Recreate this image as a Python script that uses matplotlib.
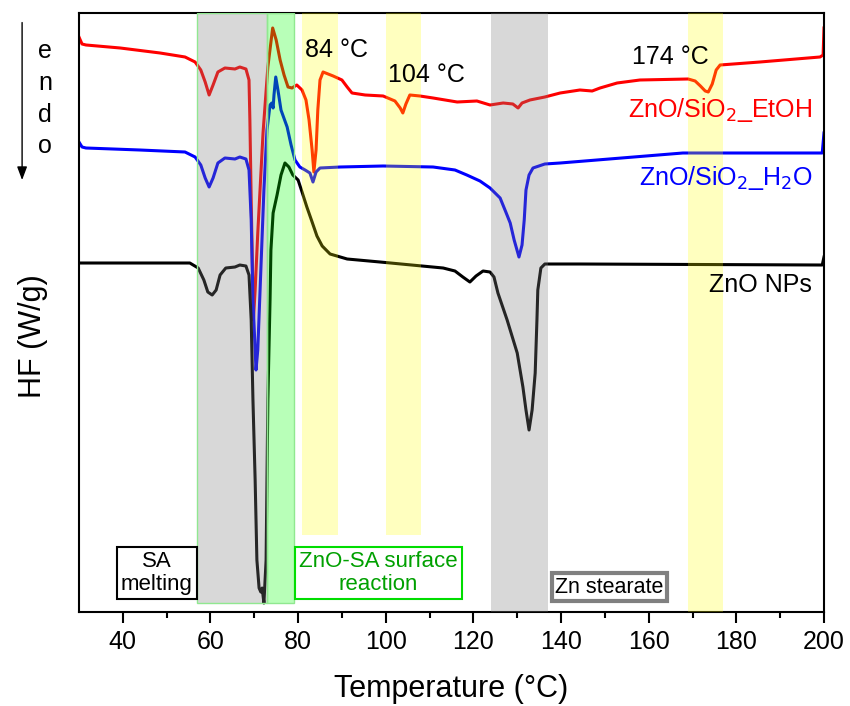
import matplotlib
matplotlib.use("Agg")
import matplotlib.pyplot as plt

plt.rcParams['font.family'] = ['Liberation Sans', 'DejaVu Sans']

# curvas DSC (T en °C, HF en unidades arbitrarias)
t_etoh = [30.0, 30.7, 31.6, 39.4, 48.5, 54.2, 56.5, 57.8, 58.8, 59.7, 60.6, 61.7, 63.3, 65.6,
          66.7, 68.1, 68.8, 69.0, 69.3, 69.8, 70.2, 70.8, 72.0, 73.1, 74.2, 75.0, 75.9, 76.8,
          77.7, 78.6, 79.7, 80.9, 81.8, 82.5, 83.2, 83.6, 84.1, 84.5, 85.0, 85.7, 88.0, 90.0,
          91.2, 92.3, 95.3, 99.4, 102.1, 103.3, 103.9, 104.6, 105.5, 107.8, 110.8, 116.3,
          120.8, 123.8, 126.8, 129.0, 130.2, 131.1, 132.9, 136.3, 139.8, 144.3, 147.1, 148.9,
          152.8, 158.0, 169.0, 170.6, 171.8, 172.9, 173.6, 174.5, 175.4, 176.3, 185.4, 199.1,
          199.8, 200.0]
hf_etoh = [5.75, 5.68, 5.67, 5.64, 5.59, 5.55, 5.50, 5.42, 5.30, 5.17, 5.27, 5.40, 5.44, 5.43,
           5.45, 5.43, 5.32, 4.92, 4.12, 2.92, 3.22, 3.79, 4.79, 5.45, 5.84, 5.72, 5.52, 5.37,
           5.25, 5.24, 5.27, 5.22, 5.12, 4.92, 4.62, 4.40, 4.62, 5.02, 5.32, 5.40, 5.36, 5.32,
           5.25, 5.19, 5.17, 5.16, 5.11, 5.04, 4.99, 5.08, 5.17, 5.16, 5.14, 5.10,
           5.11, 5.07, 5.09, 5.08, 5.04, 5.09, 5.12, 5.15, 5.19, 5.22, 5.21, 5.24,
           5.29, 5.32, 5.33, 5.31, 5.26, 5.21, 5.20, 5.28, 5.42, 5.47, 5.50, 5.55,
           5.57, 5.84]

t_h2o = [30.0, 30.7, 31.6, 43.9, 54.2, 56.5, 57.8, 58.8, 59.7, 60.6, 61.7, 63.3, 65.6, 66.7,
         68.1, 68.8, 69.3, 69.7, 70.2, 70.4, 70.8, 71.5, 72.2, 72.9, 73.6, 74.0, 74.3, 74.5,
         74.9, 75.4, 76.1, 77.5, 78.4, 79.3, 80.4, 81.6, 82.7, 83.4, 84.1, 85.0, 89.6, 99.4,
         110.8, 115.8, 118.5, 121.5, 123.8, 126.1, 127.4, 128.4, 129.3, 130.4, 131.1, 131.6,
         132.0, 132.7, 133.6, 136.3, 139.8, 167.8, 199.6, 200.0]
hf_h2o = [4.70, 4.65, 4.64, 4.62, 4.60, 4.55, 4.47, 4.34, 4.25, 4.34, 4.49, 4.54, 4.53, 4.55,
          4.53, 4.42, 3.92, 3.12, 2.62, 2.42, 2.62, 3.42, 4.22, 4.82, 5.07, 5.09, 5.04, 5.17,
          5.35, 5.22, 5.02, 4.85, 4.67, 4.52, 4.45, 4.42, 4.39, 4.30, 4.40, 4.44, 4.45, 4.46,
          4.45, 4.42, 4.37, 4.31, 4.24, 4.14, 4.00, 3.89, 3.72, 3.55, 3.67, 3.92,
          4.22, 4.37, 4.44, 4.48, 4.49, 4.59, 4.59, 4.79]

t_zno = [30.0, 55.3, 57.2, 58.5, 59.4, 60.4, 61.3, 62.2, 63.5, 65.6, 66.7, 68.1, 68.8, 69.3,
         69.7, 70.2, 70.6, 71.1, 71.5, 71.8, 72.2, 72.7, 72.9, 73.1, 73.6, 73.8, 74.3, 75.2,
         76.1, 77.0, 77.9, 78.8, 80.0, 80.9, 82.0, 83.2, 84.3, 85.5, 87.3, 91.2, 98.7, 113.1,
         115.8, 117.6, 119.2, 120.6, 122.2, 123.8, 124.7, 125.6, 127.7, 130.0, 131.3, 132.0,
         132.7, 133.4, 134.1, 134.5, 134.7, 135.4, 136.3, 144.3, 199.6, 200.0]
hf_zno = [3.49, 3.49, 3.44, 3.32, 3.20, 3.17, 3.22, 3.37, 3.44, 3.45, 3.47, 3.46, 3.37, 2.92,
          2.12, 1.32, 0.52, 0.24, 0.20, 0.24, 0.09, 0.52, 1.32, 2.12, 3.12, 3.62, 3.99, 4.17,
          4.37, 4.49, 4.45, 4.37, 4.32, 4.20, 4.05, 3.90, 3.76, 3.66, 3.58, 3.53, 3.50, 3.44,
          3.41, 3.35, 3.30, 3.36, 3.41, 3.40, 3.35, 3.19, 2.92, 2.59, 2.25, 2.02,
          1.82, 2.02, 2.39, 2.92, 3.22, 3.44, 3.48, 3.48, 3.47, 3.55]

# zonas sombreadas
zona_fusion = (57, 73)
zona_reaccion = (73, 79)
zonas_amarillas_cortas = [(81, 89), (100, 108)]
zona_estearato = (124, 137)
zona_amarilla = (169, 177)

fig = plt.figure(figsize=(8.5, 7.06), dpi=100)
ax = fig.add_axes([0.0929, 0.1331, 0.8765, 0.8485])

ax.plot(t_etoh, hf_etoh, color='#ff0000', lw=2.2)
ax.plot(t_h2o, hf_h2o, color='#0000ff', lw=2.2)
ax.plot(t_zno, hf_zno, color='black', lw=2.2)

ax.axvspan(*zona_fusion, ymin=0.015, color='gray', alpha=0.3, lw=0, zorder=3)
ax.axvspan(*zona_reaccion, ymin=0.015, color='#00ff00', alpha=0.28, lw=0, zorder=3)
for a, b in [zona_fusion, zona_reaccion]:
    ax.axvspan(a, b, ymin=0.015, facecolor='none', edgecolor='#90e890', lw=1, zorder=3)
for a, b in zonas_amarillas_cortas:
    ax.axvspan(a, b, ymin=0.129, color='yellow', alpha=0.25, lw=0, zorder=3)
ax.axvspan(*zona_estearato, color='gray', alpha=0.3, lw=0, zorder=3)
ax.axvspan(*zona_amarilla, color='yellow', alpha=0.25, lw=0, zorder=3)

ax.set_xlim(30, 200)
ax.set_ylim(0, 5.99)
ax.set_yticks([])
ax.set_xticks([40, 60, 80, 100, 120, 140, 160, 180, 200])
ax.set_xticks([50, 70, 90, 110, 130, 150, 170, 190], minor=True)
ax.tick_params(axis='x', which='major', direction='out', length=8, width=1.5,
               labelsize=18, pad=5)
ax.tick_params(axis='x', which='minor', direction='out', length=4.5, width=1.5)
for s in ax.spines.values():
    s.set_linewidth(1.5)

ax.set_xlabel("Temperature (°C)", fontsize=22, labelpad=14)
ax.set_ylabel("HF (W/g)", fontsize=22)
ax.yaxis.set_label_coords(-0.042, 0.46)

ax.text(81.5, 5.62, "84 °C", fontsize=18, va='center', zorder=5)
ax.text(100.5, 5.37, "104 °C", fontsize=18, va='center', zorder=5)
ax.text(156.2, 5.55, "174 °C", fontsize=18, va='center', zorder=5)

ax.text(197.3, 5.02, "ZnO/SiO$_2$_EtOH", color='#ff0000', fontsize=18,
        ha='right', va='center', zorder=5)
ax.text(197.3, 4.34, "ZnO/SiO$_2$_H$_2$O", color='#0000ff', fontsize=18,
        ha='right', va='center', zorder=5)
ax.text(197.3, 3.27, "ZnO NPs", color='black', fontsize=18,
        ha='right', va='center', zorder=5)

ax.text(47.8, 0.39, "SA\nmelting", fontsize=16, ha='center', va='center',
        linespacing=1.15, zorder=6,
        bbox=dict(boxstyle='square,pad=0.18', fc='white', ec='black', lw=1.5))
ax.text(98.3, 0.39, "ZnO-SA surface\nreaction", fontsize=16, ha='center', va='center',
        color='#00a000', linespacing=1.15, zorder=6,
        bbox=dict(boxstyle='square,pad=0.18', fc='white', ec='#00dd00', lw=1.5))
ax.text(151.0, 0.25, "Zn stearate", fontsize=15.5, ha='center', va='center', zorder=6,
        bbox=dict(boxstyle='square,pad=0.15', fc='white', ec='#808080', lw=3))

# flecha "endo"
fig.text(0.053, 0.86, "e\nn\nd\no", fontsize=18, ha='center', va='center',
         linespacing=1.4)
fig.add_artist(matplotlib.patches.FancyArrowPatch((0.026, 0.972), (0.026, 0.741),
               transform=fig.transFigure, arrowstyle='-|>,head_length=8,head_width=3',
               color='black', lw=1))

fig.savefig("out.png", dpi=100)
